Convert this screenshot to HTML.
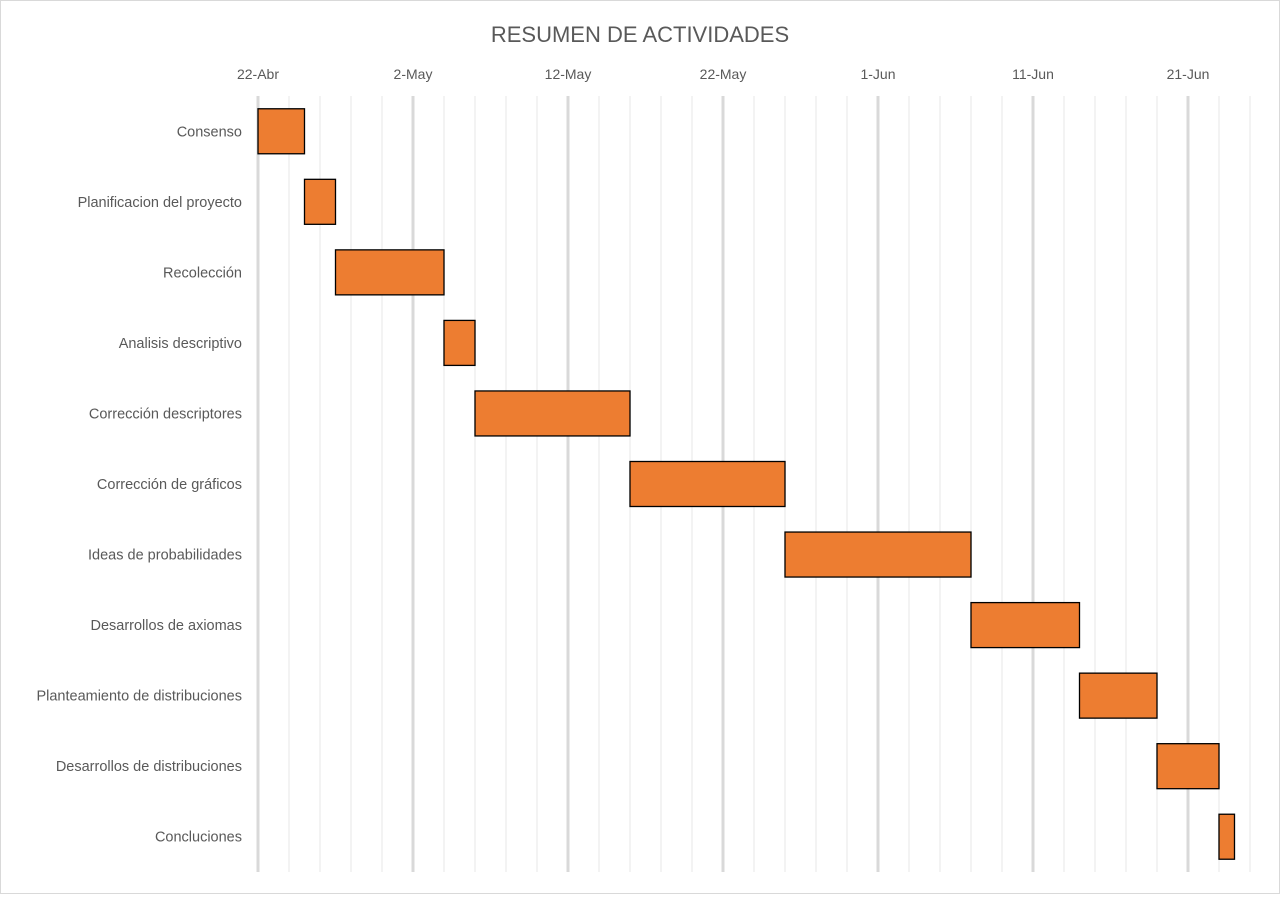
<!DOCTYPE html>
<html><head><meta charset="utf-8"><style>
body{margin:0;background:#fff;width:1280px;height:895px;overflow:hidden;font-family:"Liberation Sans",sans-serif;}
</style></head><body>
<svg id="chart" width="1280" height="895" xmlns="http://www.w3.org/2000/svg">
<rect x="0.5" y="0.5" width="1279" height="893" fill="#fff" stroke="#d9d9d9"/>
<text x="640" y="42" text-anchor="middle" font-size="22" fill="#595959">RESUMEN DE ACTIVIDADES</text>
<g id="grid"></g><g id="xticks"></g><g id="bars"></g><g id="ylabels"></g>
</svg>
<script>
const categories=["Consenso","Planificacion del proyecto","Recolección","Analisis descriptivo","Corrección descriptores","Corrección de gráficos","Ideas de probabilidades","Desarrollos de axiomas","Planteamiento de distribuciones","Desarrollos de distribuciones","Concluciones"];
const startDays=[0,3,5,12,14,24,34,46,53,58,62];
const durations=[3,2,7,2,10,10,12,7,5,4,1];
const tickLabels=["22-Abr","2-May","12-May","22-May","1-Jun","11-Jun","21-Jun"];
const tickDays=[0,10,20,30,40,50,60];
const NS="http://www.w3.org/2000/svg";
const x0=258,pxPerDay=15.5,plotTop=96,plotBottom=872,dayMax=64;
const rowH=(plotBottom-plotTop)/categories.length;
const xs=d=>x0+d*pxPerDay;
function mk(t,a,p){const e=document.createElementNS(NS,t);for(const k in a)e.setAttribute(k,a[k]);p.appendChild(e);return e;}
const grid=document.getElementById('grid');
for(let d=0;d<=dayMax;d+=2){
 const major=d%10===0;
 const l=mk('line',{x1:xs(d),x2:xs(d),y1:plotTop,y2:plotBottom,stroke:major?'#d9d9d9':'#efefef','stroke-width':major?3:1.5},grid);
 
 
}
const xt=document.getElementById('xticks');
tickLabels.forEach((t,i)=>{
 const e=mk('text',{x:xs(tickDays[i]),y:79,'text-anchor':'middle','font-size':14,fill:'#595959'},xt);
 e.textContent=t;
 
 
});
const bars=document.getElementById('bars'),yl=document.getElementById('ylabels');
categories.forEach((c,i)=>{
 const cy=plotTop+rowH*(i+0.5);
 const r=mk('rect',{x:xs(startDays[i]),y:cy-22.5,width:durations[i]*pxPerDay,height:45,fill:'#ed7d31',stroke:'#000','stroke-width':1.3},bars);
 
 
 const t=mk('text',{x:242,y:cy+5,'text-anchor':'end','font-size':14.5,fill:'#595959'},yl);
 t.textContent=c;
 
 
});
</script>
</body></html>
